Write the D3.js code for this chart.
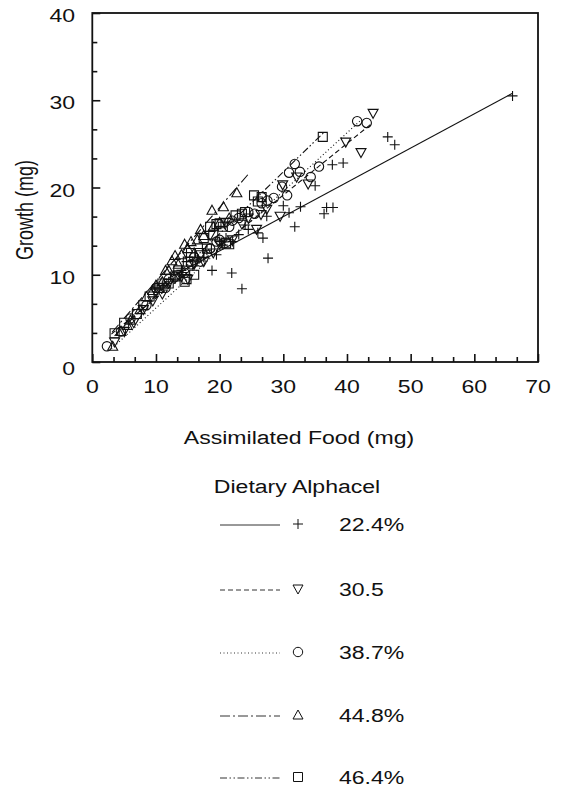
<!DOCTYPE html>
<html lang="en">
<head>
  <meta charset="UTF-8">
  <title>Growth vs Assimilated Food</title>
  <script src="https://d3js.org/d3.v7.min.js"></script>
  <style>
    body { margin: 0; background: #fff; }
    svg { display: block; }
    text { font-family: "Liberation Sans", Arial, sans-serif; fill: #111; }
  </style>
</head>
<body>
  <svg id="chart" width="561" height="792"></svg>
  <script>
    // data: [assimilated food mg, growth mg]
    const pts224 = [[66,30.5],[46.4,25.8],[47.5,24.9],[37.7,22.6],[39.4,22.8],[35,20.2],[36.8,17.7],[37.8,17.7],
      [36.4,17],[32.7,17.8],[30,17.9],[30.9,17.1],[31.8,15.5],[26.8,14.2],[26,14.8],[27.6,11.9],[18.8,10.5],
      [21.9,10.2],[23.5,8.4],[27.4,16.7],[22,13.8],[20.5,13.4],[17.5,12],[15.8,11],[14,10.5],[13,9.5],[12,9.2],
      [19.5,12.3],[24.5,15.2],[10,8.5],[11,8.8],[14.8,11.5],[16.5,11.8],[18,12.8],[20,13.8],[21,14.2],[23,14.6],
      [24,15.7]];
    const pts305 = [[44.1,28.5],[42.2,24],[39.8,25.2],[33.9,20.4],[32.1,21.2],[29.9,20.3],[29.5,16.7],[25.8,15.2],
      [27.4,17.5],[3.5,2.3],[5,3.5],[6.5,4.5],[8,6],[9.5,7],[11,7.8],[12,9],[13.5,10],[15,9.5],[16,11.2],
      [17.5,11.5],[19,12.5],[20,13.5],[22,14],[23.5,15.8],[21,16],[18.5,14.5],[10,8],[14,9.8],[17,12.3],
      [24.5,16.5],[26.5,16.9]];
    const pts387 = [[41.6,27.6],[43.1,27.4],[31.8,22.7],[30.9,21.7],[32.6,21.8],[35.6,22.4],[34.3,21.2],[29.8,20.1],
      [30.6,19.1],[28.5,18.8],[26.6,18.9],[26.6,18.2],[2.3,1.8],[4.5,3.5],[6,5],[8.5,6.5],[10,8.5],[11.5,8.5],
      [13,9.8],[14.5,10.2],[16,12],[17,11.5],[18.5,13],[20,14],[21.5,15.5],[23,16.5],[24.5,17.2],[22,16.2],[25.5,17],
      [7,5.5],[12,9.5],[15.5,11.2],[19.5,13.8],[27.5,18.5]];
    const pts448 = [[3.2,1.8],[4.5,3.5],[5.5,4.2],[7.5,6],[8.5,7.5],[10,8.8],[11,9.2],[12,10.5],[13.5,11.2],
      [14,12.3],[15,13],[16,12.5],[16.5,14],[17.5,14.5],[18.8,17.4],[20.6,17.8],[22.7,19.4],[19,15.5],[20,16],
      [21.5,16.5],[12.5,11.6],[9.5,8.2],[6,4.8],[11.5,10.5],[13,12.2],[15.5,13.8],[17,15.2],[14.5,13.5]];
    const pts464 = [[36.2,25.8],[25.4,19.1],[26.6,18.9],[23.5,17],[19,14.6],[3.5,3.3],[5,4.5],[7,5.5],[9,7.5],
      [10.5,8.5],[12,9],[13.5,10.5],[14.8,9.5],[15,11.5],[16,10],[16.8,12.5],[17.5,14.2],[18,13],[19.5,15.8],
      [20.5,15.5],[21.5,13.5],[22.5,16.8],[24,17.2],[14.5,9.2],[8,6.5],[11,9],[13,9.8],[15.5,12.5],[18.5,15.5],
      [20,15.9],[21,13.6],[26,18.4]];

    // fitted lines, end points
    const fit224 = [[12,9.6],[66,30.8]];
    const fit305 = [[3,3.2],[44,27.4]];
    const fit387 = [[3,1.5],[42,27.6]];
    const fit448 = [[3.1,3.4],[24.7,21.7]];
    const fit464 = [[3.5,3],[36.5,26.4]];

    const legendLabels = ["22.4%", "30.5", "38.7%", "44.8%", "46.4%"];
    const xTicks = [0, 10, 20, 30, 40, 50, 60, 70];
    const yTicks = [0, 10, 20, 30, 40];

    const groups = [
      { pts: pts224, fit: fit224, mark: "plus", dash: null },
      { pts: pts305, fit: fit305, mark: "tridown", dash: "5,3" },
      { pts: pts387, fit: fit387, mark: "circle", dash: "1,2.5" },
      { pts: pts448, fit: fit448, mark: "triup", dash: "10,3,2,3" },
      { pts: pts464, fit: fit464, mark: "square", dash: "7,2.5,1.5,2.5,1.5,2.5" }
    ];

    const svg = d3.select("#chart");
    const x = d3.scaleLinear().domain([0, 70]).range([92.3, 538]);
    const y = d3.scaleLinear().domain([0, 40]).range([362, 13]);
    const sx = 1.28; // the scan is wider than tall, so glyphs are stretched
    const fs = "18px";

    function markPath(kind) {
      const s = 5;
      if (kind === "plus") return `M${-s},0H${s}M0,${-s}V${s}`;
      if (kind === "circle") return d3.arc()({ innerRadius: 0, outerRadius: 4.7, startAngle: 0, endAngle: 2 * Math.PI });
      if (kind === "square") return `M-4.5,-4.5H4.5V4.5H-4.5Z`;
      if (kind === "triup") return `M0,${-s}L${s},${s - 1}L${-s},${s - 1}Z`;
      return `M0,${s}L${s},${-s + 1}L${-s},${-s + 1}Z`;
    }

    // fitted lines
    const line = d3.line().x(d => x(d[0])).y(d => y(d[1]));
    groups.forEach(g => {
      svg.append("path")
        .attr("d", line(g.fit))
        .attr("fill", "none")
        .attr("stroke", "#111")
        .attr("stroke-width", 1.1)
        .attr("stroke-dasharray", g.dash);
    });

    // markers
    groups.forEach(g => {
      svg.append("g").selectAll("path")
        .data(g.pts)
        .enter().append("path")
        .attr("transform", d => `translate(${x(d[0])},${y(d[1])})`)
        .attr("d", markPath(g.mark))
        .attr("fill", "none")
        .attr("stroke", "#111")
        .attr("stroke-width", 1.1);
    });

    // frame
    svg.append("rect")
      .attr("x", x(0)).attr("y", y(40))
      .attr("width", x(70) - x(0)).attr("height", y(0) - y(40))
      .attr("fill", "none").attr("stroke", "#111").attr("stroke-width", 1.8);

    // ticks pointing inward, minor every 10/3
    const minorX = d3.range(0, 70.001, 10 / 3).filter(v => Math.abs(v / 10 - Math.round(v / 10)) > 0.01);
    const minorY = d3.range(0, 40.001, 10 / 3).filter(v => Math.abs(v / 10 - Math.round(v / 10)) > 0.01);

    function tickStyle(g) {
      g.select(".domain").remove();
      g.selectAll("line").attr("stroke", "#111").attr("stroke-width", 1.6);
      g.selectAll("text").remove();
    }

    svg.append("g").attr("transform", `translate(0,${y(0)})`)
      .call(d3.axisBottom(x).tickValues(xTicks).tickSize(-8)).call(tickStyle);
    svg.append("g").attr("transform", `translate(0,${y(0)})`)
      .call(d3.axisBottom(x).tickValues(minorX).tickSize(-5)).call(tickStyle);
    svg.append("g").attr("transform", `translate(${x(0)},0)`)
      .call(d3.axisLeft(y).tickValues(yTicks).tickSize(-8)).call(tickStyle);
    svg.append("g").attr("transform", `translate(${x(0)},0)`)
      .call(d3.axisLeft(y).tickValues(minorY).tickSize(-5)).call(tickStyle);

    // tick labels
    svg.selectAll(".xlab").data(xTicks).enter().append("text")
      .attr("transform", d => `translate(${x(d)},393) scale(${sx},1)`)
      .attr("text-anchor", "middle")
      .style("font-size", fs)
      .text(d => d);

    svg.selectAll(".ylab").data(yTicks).enter().append("text")
      .attr("transform", d => `translate(75,${y(d) + (d === 0 ? 13 : 9)}) scale(${sx},1)`)
      .attr("text-anchor", "end")
      .style("font-size", fs)
      .text(d => d);

    // axis titles
    svg.append("text")
      .attr("transform", `translate(33,210) rotate(-90) scale(1,${sx})`)
      .attr("text-anchor", "middle")
      .style("font-size", fs)
      .text("Growth (mg)");

    svg.append("text")
      .attr("transform", `translate(299,444) scale(${sx},1)`)
      .attr("text-anchor", "middle")
      .style("font-size", fs)
      .text("Assimilated Food (mg)");

    svg.append("text")
      .attr("transform", `translate(297,493) scale(${sx},1)`)
      .attr("text-anchor", "middle")
      .style("font-size", fs)
      .text("Dietary Alphacel");

    // legend
    const rowY = [525, 590, 653, 716, 778];
    groups.forEach((g, i) => {
      const row = svg.append("g").attr("transform", `translate(0,${rowY[i]})`);
      row.append("line")
        .attr("x1", 220).attr("x2", 280).attr("y1", 0).attr("y2", 0)
        .attr("stroke", "#333").attr("stroke-width", 1)
        .attr("stroke-dasharray", g.dash);
      row.append("path")
        .attr("transform", "translate(298,-1)")
        .attr("d", markPath(g.mark))
        .attr("fill", "none").attr("stroke", "#111").attr("stroke-width", 1);
      row.append("text")
        .attr("transform", `translate(339,6) scale(${sx},1)`)
        .style("font-size", fs)
        .text(legendLabels[i]);
    });
  </script>
</body>
</html>
